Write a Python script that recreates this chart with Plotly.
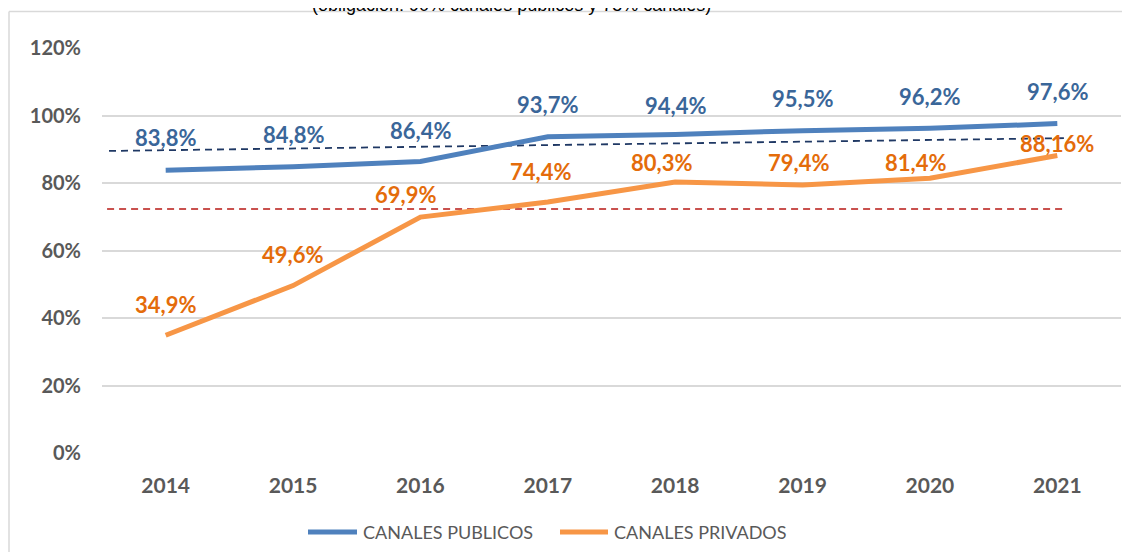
import plotly.graph_objects as go

years = ["2014", "2015", "2016", "2017", "2018", "2019", "2020", "2021"]
publicos = [83.8, 84.8, 86.4, 93.7, 94.4, 95.5, 96.2, 97.6]
privados = [34.9, 49.6, 69.9, 74.4, 80.3, 79.4, 81.4, 88.16]
publicos_text = ["83,8%", "84,8%", "86,4%", "93,7%", "94,4%", "95,5%", "96,2%", "97,6%"]
privados_text = ["34,9%", "49,6%", "69,9%", "74,4%", "80,3%", "79,4%", "81,4%", "88,16%"]

# reference dashed lines (start/end, in category units and %)
ref_pub_x = [-0.445, 7.08]
ref_pub_y = [89.5, 93.3]
ref_priv_x = [-0.46, 7.07]
ref_priv_y = [72.3, 72.3]

y_ticks = [0, 20, 40, 60, 80, 100, 120]

# label offsets (pixels) - style only
pub_dx = [0, 0, 0, 0, 0, 0, 0, 0]
pub_dy = [33, 32, 31, 32, 29, 32, 32, 32]
priv_dx = [0, -1, -15, -7, -14, -4, -14, 0]
priv_dy = [31, 31, 23, 30, 19, 23, 16, 12]

BLUE = "#4F81BD"
ORANGE = "#F79646"
BLUE_TXT = "#3A6699"
ORANGE_TXT = "#E46C0A"
GRAY = "#595959"
FONT = "Lato"

xs = list(range(len(years)))

fig = go.Figure()
fig.add_trace(go.Scatter(x=ref_pub_x, y=ref_pub_y, mode="lines",
                         line=dict(color="#1F3864", width=1.8, dash="7px,5px"),
                         hoverinfo="skip", showlegend=False))
fig.add_trace(go.Scatter(x=ref_priv_x, y=ref_priv_y, mode="lines",
                         line=dict(color="#C9514E", width=1.8, dash="7px,5px"),
                         hoverinfo="skip", showlegend=False))
fig.add_trace(go.Scatter(x=xs, y=publicos, mode="lines", name="CANALES PUBLICOS",
                         line=dict(color=BLUE, width=5), showlegend=False))
fig.add_trace(go.Scatter(x=xs, y=privados, mode="lines", name="CANALES PRIVADOS",
                         line=dict(color=ORANGE, width=5), showlegend=False))

ann = []
for i in xs:
    ann.append(dict(x=i, y=publicos[i], xref="x", yref="y", text=publicos_text[i],
                    showarrow=False, xshift=pub_dx[i], yshift=pub_dy[i],
                    font=dict(family=FONT, size=22, color=BLUE_TXT, weight="bold")))
    ann.append(dict(x=i, y=privados[i], xref="x", yref="y", text=privados_text[i],
                    showarrow=False, xshift=priv_dx[i], yshift=priv_dy[i],
                    font=dict(family=FONT, size=22, color=ORANGE_TXT, weight="bold")))

# page offset (body margin) and plot box in screen pixels
OFF = 8
PX0, PX1, PY0, PY1 = 102, 1121, 48, 453
W, H = 1130 - OFF, 552 - OFF
L, T = PX0 - OFF, PY0 - OFF
R, B = W - (PX1 - OFF), H - (PY1 - OFF)
pw, ph = PX1 - PX0, PY1 - PY0
def px(x):
    return (x - PX0) / pw
def py(y):
    return (PY1 - y) / ph

# title (cut off at top, as in the reference)
ann.append(dict(x=px(511), y=py(17), xref="paper", yref="paper", xanchor="center",
                yanchor="bottom", showarrow=False,
                text="(obligación: 90% canales públicos y 75% canales)",
                font=dict(family="Liberation Sans", size=18, color="#000000")))

# manual legend
legend_items = [("CANALES PUBLICOS", BLUE, 308, 357, 361),
                ("CANALES PRIVADOS", ORANGE, 560, 608, 612)]
shapes = []
for name, col, x0, x1, tx in legend_items:
    shapes.append(dict(type="line", xref="paper", yref="paper",
                       x0=px(x0), x1=px(x1), y0=py(532), y1=py(532),
                       line=dict(color=col, width=5)))
    ann.append(dict(x=px(tx), y=py(532), xref="paper", yref="paper", xanchor="left",
                    yanchor="middle", showarrow=False, text=name,
                    font=dict(family=FONT, size=18, color=GRAY)))

# chart border
shapes.append(dict(type="line", xref="paper", yref="paper", x0=px(9), x1=px(1140),
                   y0=py(11.5), y1=py(11.5), line=dict(color="#D9D9D9", width=1.5)))
shapes.append(dict(type="line", xref="paper", yref="paper", x0=px(9), x1=px(9),
                   y0=py(11.5), y1=py(560), line=dict(color="#D9D9D9", width=1.5)))

fig.update_layout(
    width=W, height=H,
    margin=dict(l=L, r=R, t=T, b=B),
    paper_bgcolor="white", plot_bgcolor="white",
    annotations=ann, shapes=shapes,
    showlegend=False,
    xaxis=dict(range=[-0.5, 7.5], tickvals=xs, ticktext=years, showgrid=False,
               zeroline=False, showline=False, ticks="", ticklabelstandoff=18,
               tickfont=dict(family=FONT, size=21, color=GRAY, weight="bold")),
    yaxis=dict(range=[0, 120], tickvals=y_ticks, ticktext=[f"{v}%" for v in y_ticks],
               showgrid=True, gridcolor="#D9D9D9", gridwidth=1.5, zeroline=False,
               showline=False, ticks="", ticklabelstandoff=20,
               tickfont=dict(family=FONT, size=20, color=GRAY, weight="bold")),
)

fig.write_html("out.html")
